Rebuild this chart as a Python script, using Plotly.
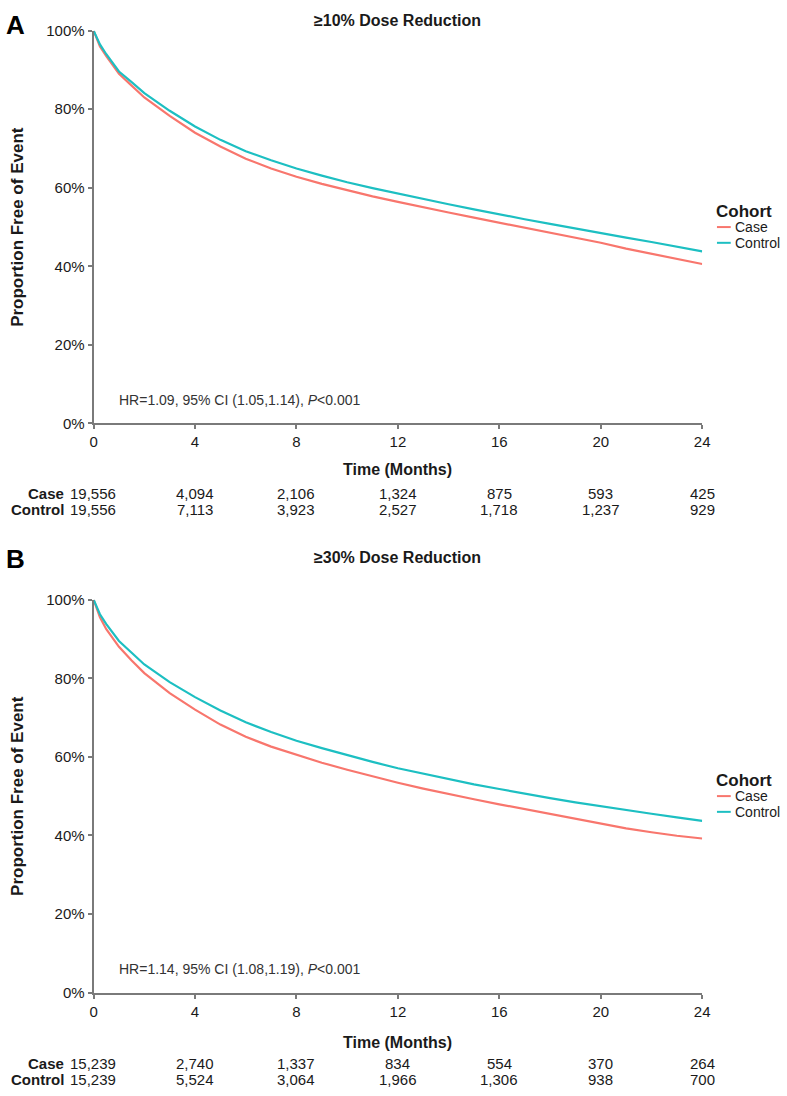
import plotly.graph_objects as go

W, H = 787, 1096

months = [0, 0.25, 0.5, 1, 1.5, 2, 3, 4, 5, 6, 7, 8, 9, 10, 11, 12,
          13, 14, 15, 16, 17, 18, 19, 20, 21, 22, 23, 24]

a_case = [100, 96, 93.5, 89, 86, 83, 78.3, 74, 70.5, 67.4, 64.9, 62.8, 61, 59.3, 57.8, 56.4,
          55, 53.7, 52.4, 51.1, 49.8, 48.5, 47.2, 46, 44.5, 43.2, 41.8, 40.6]
a_control = [100, 96.5, 94, 89.6, 86.9, 84.1, 79.6, 75.6, 72.2, 69.3, 67, 64.9, 63.1, 61.4, 59.9, 58.5,
             57.1, 55.8, 54.5, 53.2, 52, 50.8, 49.6, 48.4, 47.3, 46.2, 45, 43.8]
b_case = [100, 95.5, 92.5, 88, 84.5, 81.3, 76.2, 72, 68.2, 65.1, 62.6, 60.5, 58.5, 56.7, 55, 53.4,
          51.9, 50.5, 49.2, 47.9, 46.7, 45.5, 44.2, 43, 41.8, 40.8, 39.9, 39.2]
b_control = [100, 96.3, 93.8, 89.5, 86.5, 83.5, 79, 75.2, 71.8, 68.8, 66.3, 64.1, 62.2, 60.4, 58.7, 57.1,
             55.7, 54.3, 53, 51.8, 50.6, 49.5, 48.4, 47.4, 46.4, 45.5, 44.6, 43.7]

risk_times = [0, 4, 8, 12, 16, 20, 24]
a_risk_case = ["19,556", "4,094", "2,106", "1,324", "875", "593", "425"]
a_risk_control = ["19,556", "7,113", "3,923", "2,527", "1,718", "1,237", "929"]
b_risk_case = ["15,239", "2,740", "1,337", "834", "554", "370", "264"]
b_risk_control = ["15,239", "5,524", "3,064", "1,966", "1,306", "938", "700"]

y_ticks = [0, 20, 40, 60, 80, 100]
y_tick_text = ["0%", "20%", "40%", "60%", "80%", "100%"]
x_ticks = [0, 4, 8, 12, 16, 20, 24]

titles = ["≥10% Dose Reduction", "≥30% Dose Reduction"]
panel_labels = ["A", "B"]
hr_texts = ["HR=1.09, 95% CI (1.05,1.14), <i>P</i><0.001",
            "HR=1.14, 95% CI (1.08,1.19), <i>P</i><0.001"]

CASE_COLOR = "#F8766D"
CONTROL_COLOR = "#1DBFC2"
AXIS_COLOR = "#7a7a7a"
TEXT_COLOR = "#1a1a1a"
SANS = "Liberation Sans, Arial, sans-serif"

# pixel geometry
X0, X1 = 91, 709
panels = [
    dict(top=22, bottom=421, title_y=12, label_y=16, time_y=468, case_y=492, control_y=508),
    dict(top=600, bottom=999, title_y=557, label_y=559, time_y=1050, case_y=1071, control_y=1087),
]


def py(p):
    return 1 - p / H


def px(p):
    return p / W


def ann(text, x, y, size, xanchor="center", xref="paper", angle=0, color=TEXT_COLOR, xshift=0):
    return dict(text=text, x=x, y=py(y), xref=xref, yref="paper", xanchor=xanchor,
                yanchor="middle", showarrow=False, textangle=angle, xshift=xshift,
                font=dict(family=SANS, size=size, color=color))


fig = go.Figure()
data = [(a_case, a_control), (b_case, b_control)]
risks = [(a_risk_case, a_risk_control), (b_risk_case, b_risk_control)]

annotations = []
shapes = []
for i, (pan, (cs, ct)) in enumerate(zip(panels, data)):
    suffix = "" if i == 0 else str(i + 1)
    xa, ya = "x" + suffix, "y" + suffix
    fig.add_trace(go.Scatter(x=months, y=cs, mode="lines", name="Case",
                             line=dict(color=CASE_COLOR, width=2.2), showlegend=False,
                             xaxis=xa, yaxis=ya))
    fig.add_trace(go.Scatter(x=months, y=ct, mode="lines", name="Control",
                             line=dict(color=CONTROL_COLOR, width=2.2), showlegend=False,
                             xaxis=xa, yaxis=ya))
    axis_common = dict(showgrid=False, zeroline=False, showline=True, linecolor=AXIS_COLOR,
                       linewidth=2, ticks="outside", ticklen=4, tickwidth=1.5,
                       tickcolor=AXIS_COLOR, tickfont=dict(family=SANS, size=15, color=TEXT_COLOR))
    fig.update_layout(**{
        "xaxis" + suffix: dict(domain=[px(X0), px(X1)], range=[0, 24], tickvals=x_ticks,
                               anchor=ya, **axis_common),
        "yaxis" + suffix: dict(domain=[py(pan["bottom"]), py(pan["top"])], range=[0, 100],
                               tickvals=y_ticks, ticktext=y_tick_text, anchor=xa, **axis_common),
    })
    cx = (px(X0) + px(X1)) / 2
    annotations.append(ann("<b>" + titles[i] + "</b>", cx, pan["title_y"], 16))
    annotations.append(ann("<b>" + panel_labels[i] + "</b>", px(0), pan["label_y"], 26,
                           xanchor="left", color="#000"))
    annotations.append(ann("<b>Proportion Free of Event</b>", px(13),
                           (pan["top"] + pan["bottom"]) / 2, 17, angle=-90))
    annotations.append(ann(hr_texts[i], px(115), pan["bottom"] - 24, 14, xanchor="left",
                           color="#333"))
    annotations.append(ann("<b>Time (Months)</b>", cx, pan["time_y"], 16))
    # risk table
    for lab, yy, vals in (("Case", pan["case_y"], risks[i][0]),
                          ("Control", pan["control_y"], risks[i][1])):
        annotations.append(ann("<b>" + lab + "</b>", px(63), yy, 15, xanchor="right"))
        for t, v in zip(risk_times, vals):
            annotations.append(ann(v, t, yy, 15, xanchor="center" if t else "left", xref=xa,
                                   xshift=-26 if t == 0 else 0))
    # legend (custom)
    cy = (pan["top"] + pan["bottom"]) / 2
    annotations.append(ann("<b>Cohort</b>", px(721), cy - 16, 17, xanchor="left"))
    for lab, col, dy in (("Case", CASE_COLOR, 0), ("Control", CONTROL_COLOR, 16)):
        shapes.append(dict(type="line", xref="paper", yref="paper", x0=px(724), x1=px(738),
                           y0=py(cy + dy), y1=py(cy + dy), line=dict(color=col, width=2)))
        annotations.append(ann(lab, px(740), cy + dy, 14, xanchor="left"))

fig.update_layout(width=W, height=H, margin=dict(l=0, r=0, t=0, b=0),
                  paper_bgcolor="white", plot_bgcolor="white",
                  annotations=annotations, shapes=shapes, showlegend=False)

fig.write_html("out.html", config={"displayModeBar": False},
               post_script="document.body.style.margin='0';document.body.style.overflow='hidden';")
